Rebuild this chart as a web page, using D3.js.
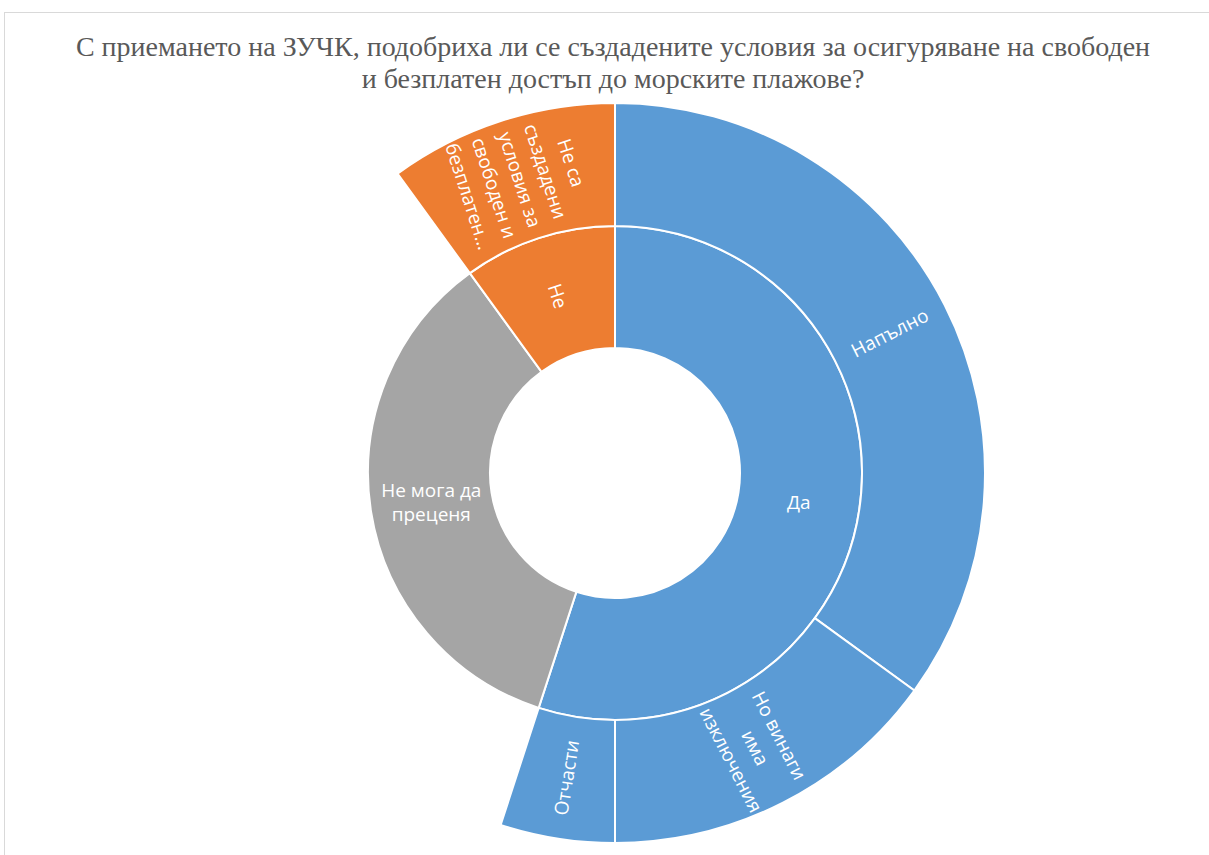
<!DOCTYPE html>
<html>
<head>
<meta charset="utf-8">
<script src="https://cdn.jsdelivr.net/npm/d3@7"></script>
<style>
  body { margin: 0; background: #fff; }
  svg { display: block; }
</style>
</head>
<body>
<script>
// Top level answers (inner ring)
const categories = ["Да", "Не мога да преценя", "Не"];
const categoryValues = [55, 35, 10];

// Detailed answers (outer ring) and the answer each belongs to
const subParents = ["Да", "Да", "Да", "Не"];
const subLabels = ["Напълно", "Но винаги има изключения", "Отчасти",
                   "Не са създадени условия за свободен и безплатен достъп"];
const subValues = [35, 15, 5, 10];

const titleLines = [
  "С приемането на ЗУЧК, подобриха ли се създадените условия за осигуряване на свободен",
  "и безплатен достъп до морските плажове?"
];

const colours = { "Да": "#5B9BD5", "Не мога да преценя": "#A5A5A5", "Не": "#ED7D31" };

const W = 1209, H = 855;
const cx = 615, cy = 473;

const svg = d3.select("body").append("svg")
  .attr("width", W)
  .attr("height", H);

// chart area border (only top and left edges show)
svg.append("rect")
  .attr("x", 4.5).attr("y", 12.5)
  .attr("width", W + 20).attr("height", H + 20)
  .attr("fill", "#fff")
  .attr("stroke", "#d9d9d9");

// Title
svg.append("text")
  .attr("x", 613)
  .attr("text-anchor", "middle")
  .style("font-family", "'Liberation Serif', 'Times New Roman', serif")
  .style("font-size", "28px")
  .attr("fill", "#595959")
  .selectAll("tspan")
  .data(titleLines)
  .enter()
  .append("tspan")
  .attr("x", 613)
  .attr("y", (d, i) => 56 + i * 32)
  .text(d => d);

// Build the hierarchy
const treeData = {
  name: "root",
  children: categories.map((c, i) => {
    const kids = subLabels
      .map((s, j) => ({ name: s, value: subValues[j], parent: subParents[j] }))
      .filter(k => k.parent === c);
    return kids.length ? { name: c, children: kids.map(k => ({ name: k.name, value: k.value })) }
                       : { name: c, value: categoryValues[i] };
  })
};

const root = d3.hierarchy(treeData).sum(d => d.value || 0);
d3.partition().size([2 * Math.PI, 3])(root);

// depth -> radius
const radius = d3.scaleLinear().domain([0, 1, 2, 3]).range([0, 125, 247, 370]);

const arc = d3.arc()
  .startAngle(d => d.x0)
  .endAngle(d => d.x1)
  .innerRadius(d => radius(d.y0))
  .outerRadius(d => radius(d.y1));

const g = svg.append("g").attr("transform", `translate(${cx},${cy})`);

const nodes = root.descendants().filter(d => d.depth > 0);
const topOf = d => d.depth === 1 ? d.data.name : d.parent.data.name;

g.selectAll("path")
  .data(nodes)
  .enter()
  .append("path")
  .attr("d", arc)
  .attr("fill", d => colours[topOf(d)])
  .attr("stroke", "#fff")
  .attr("stroke-width", 2);

// Labels
const fontSize = 19;
const measure = svg.append("text")
  .style("font-family", "'Open Sans', sans-serif")
  .style("font-size", fontSize + "px")
  .attr("visibility", "hidden");
const textWidth = s => measure.text(s).node().getComputedTextLength();

function wrap(label, maxWidth, maxLines) {
  const words = label.split(" ");
  const lines = [];
  let cur = "";
  words.forEach(w => {
    const test = cur ? cur + " " + w : w;
    if (cur && textWidth(test) > maxWidth) { lines.push(cur); cur = w; }
    else cur = test;
  });
  if (cur) lines.push(cur);
  if (lines.length > maxLines) {
    const kept = lines.slice(0, maxLines);
    kept[maxLines - 1] = kept[maxLines - 1] + "…";
    return kept;
  }
  return lines;
}

nodes.forEach(d => {
  const span = d.x1 - d.x0;
  const mid = (d.x0 + d.x1) / 2;
  const r = (radius(d.y0) + radius(d.y1)) / 2;
  const x = r * Math.sin(mid), y = -r * Math.cos(mid);
  const horizontal = d.depth === 1 && span > Math.PI / 2;
  let rot = 0, lines, lh;
  if (horizontal) {
    lines = wrap(d.data.name, 125, 3);
    lh = 24;
  } else {
    rot = mid * 180 / Math.PI - 90;
    while (rot > 90) rot -= 180;
    while (rot < -90) rot += 180;
    lines = wrap(d.data.name, 112, 5);
    lh = 27;
  }
  const t = g.append("text")
    .attr("transform", `translate(${x},${y}) rotate(${rot})`)
    .attr("text-anchor", "middle")
    .style("font-family", "'Open Sans', sans-serif")
    .style("font-size", fontSize + "px")
    .attr("fill", "#fff");
  t.selectAll("tspan")
    .data(lines)
    .enter()
    .append("tspan")
    .attr("x", 0)
    .attr("y", (s, i) => (i - (lines.length - 1) / 2) * lh)
    .attr("dy", "0.35em")
    .text(s => s);
});
measure.remove();
</script>
</body>
</html>
